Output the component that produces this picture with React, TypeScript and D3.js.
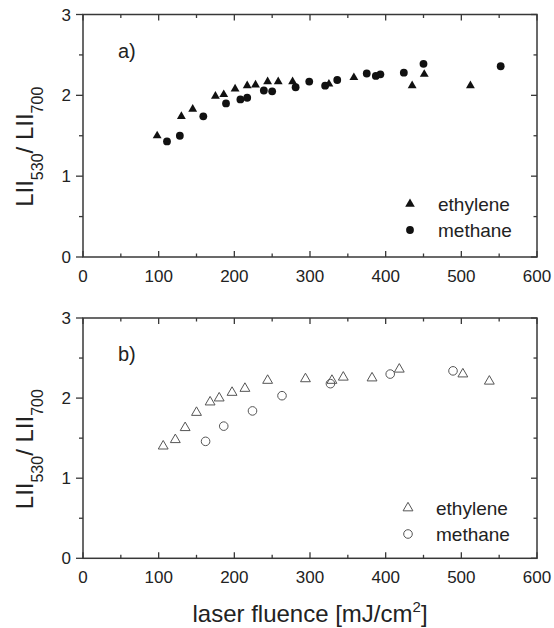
import React from "react";
import * as d3 from "d3";

// ---- data ----
const xTicks = [0, 100, 200, 300, 400, 500, 600];
const yTicks = [0, 1, 2, 3];

const topEthyleneX = [98, 130, 145, 175, 186, 201, 217, 228, 244, 258, 277, 325, 358, 435, 451, 512];
const topEthyleneY = [1.5, 1.74, 1.83, 1.99, 2.01, 2.08, 2.12, 2.13, 2.17, 2.17, 2.17, 2.14, 2.22, 2.12, 2.26, 2.12];

const topMethaneX = [111, 128, 159, 189, 208, 217, 239, 250, 281, 299, 320, 336, 375, 387, 393, 424, 450, 552];
const topMethaneY = [1.43, 1.5, 1.74, 1.9, 1.95, 1.97, 2.06, 2.05, 2.1, 2.17, 2.12, 2.19, 2.27, 2.24, 2.26, 2.28, 2.39, 2.36];

const botEthyleneX = [106, 122, 135, 150, 168, 180, 197, 214, 244, 294, 329, 344, 382, 418, 502, 537];
const botEthyleneY = [1.4, 1.48, 1.63, 1.82, 1.95, 2.0, 2.07, 2.12, 2.22, 2.24, 2.22, 2.26, 2.25, 2.36, 2.3, 2.21];

const botMethaneX = [162, 186, 224, 263, 327, 406, 489];
const botMethaneY = [1.46, 1.65, 1.84, 2.03, 2.18, 2.3, 2.34];

const FONT = "'Liberation Sans', Arial, Helvetica, sans-serif";
const AXIS = "#383838";

type PanelProps = {
  top: number;
  bottom: number;
  label: string;
  triX: number[];
  triY: number[];
  cirX: number[];
  cirY: number[];
  filled: boolean;
  legendY: number;
  legendX: number;
};

const x = d3.scaleLinear().domain([0, 600]).range([83, 537]);

function Panel(p: PanelProps) {
  const y = d3.scaleLinear().domain([0, 3]).range([p.bottom, p.top]);
  const tri = d3.symbol().type(d3.symbolTriangle).size(p.filled ? 34 : 42)();
  const triLeg = d3.symbol().type(d3.symbolTriangle).size(p.filled ? 40 : 42)();
  const fill = p.filled ? "#111" : "none";
  const stroke = p.filled ? "none" : "#555";
  const r = p.filled ? 3.9 : 4.3;
  const minorX = d3.range(50, 600, 100);
  const minorY = [0.5, 1.5, 2.5];
  const L = x(0), R = x(600);
  const midY = (p.top + p.bottom) / 2 + 11;
  return (
    <g>
      {/* frame */}
      <rect x={L} y={p.top} width={R - L} height={p.bottom - p.top} fill="none" stroke={AXIS} strokeWidth={1.5} />
      {/* x ticks bottom & top, inward */}
      {xTicks.map((t) => (
        <g key={"xt" + t}>
          <line x1={x(t)} x2={x(t)} y1={p.bottom} y2={p.bottom - 6} stroke={AXIS} strokeWidth={1.3} />
          <line x1={x(t)} x2={x(t)} y1={p.top} y2={p.top + 6} stroke={AXIS} strokeWidth={1.3} />
          <text x={x(t)} y={p.bottom + 25} textAnchor="middle" fontSize={17} fontFamily={FONT} fill="#222">
            {t}
          </text>
        </g>
      ))}
      {minorX.map((t) => (
        <g key={"xm" + t}>
          <line x1={x(t)} x2={x(t)} y1={p.bottom} y2={p.bottom - 3.5} stroke={AXIS} strokeWidth={1.3} />
          <line x1={x(t)} x2={x(t)} y1={p.top} y2={p.top + 3.5} stroke={AXIS} strokeWidth={1.3} />
        </g>
      ))}
      {/* y ticks: left outward, right inward */}
      {yTicks.map((t) => (
        <g key={"yt" + t}>
          <line x1={L} x2={L - 7} y1={y(t)} y2={y(t)} stroke={AXIS} strokeWidth={1.3} />
          <line x1={R} x2={R - 6} y1={y(t)} y2={y(t)} stroke={AXIS} strokeWidth={1.3} />
          <text x={71} y={y(t)} dy="0.36em" textAnchor="end" fontSize={17} fontFamily={FONT} fill="#222">
            {t}
          </text>
        </g>
      ))}
      {minorY.map((t) => (
        <g key={"ym" + t}>
          <line x1={L} x2={L - 4} y1={y(t)} y2={y(t)} stroke={AXIS} strokeWidth={1.3} />
          <line x1={R} x2={R - 3.5} y1={y(t)} y2={y(t)} stroke={AXIS} strokeWidth={1.3} />
        </g>
      ))}
      {/* y axis title */}
      <text
        transform={`translate(33,${midY}) rotate(-90)`}
        textAnchor="middle"
        fontSize={24}
        fontFamily={FONT}
        fill="#222"
      >
        LII
        <tspan fontSize={16} dy={10}>530</tspan>
        <tspan dy={-10}>/ LII</tspan>
        <tspan fontSize={16} dy={10}>700</tspan>
      </text>
      {/* panel label */}
      <text x={118} y={p.top + 43} fontSize={20} fontFamily={FONT} fill="#222">
        {p.label}
      </text>
      {/* data */}
      {p.cirX.map((v, i) => (
        <circle key={"c" + i} cx={x(v)} cy={y(p.cirY[i])} r={r} fill={fill} stroke={stroke} strokeWidth={1} />
      ))}
      {p.triX.map((v, i) => (
        <path
          key={"t" + i}
          d={tri as string}
          transform={`translate(${x(v)},${y(p.triY[i])})`}
          fill={fill}
          stroke={stroke}
          strokeWidth={1}
        />
      ))}
      {/* legend */}
      <path d={triLeg as string} transform={`translate(${p.legendX},${p.legendY})`} fill={fill} stroke={stroke} strokeWidth={1} />
      <text x={p.legendX + 28} y={p.legendY} dy="0.36em" fontSize={19} fontFamily={FONT} fill="#222">
        ethylene
      </text>
      <circle cx={p.legendX} cy={p.legendY + 26} r={r} fill={fill} stroke={stroke} strokeWidth={1} />
      <text x={p.legendX + 28} y={p.legendY + 26} dy="0.36em" fontSize={19} fontFamily={FONT} fill="#222">
        methane
      </text>
    </g>
  );
}

export default function App() {
  return (
    <svg
      width={554}
      height={628}
      style={{ position: "absolute", left: 0, top: 0, background: "#fff" }}
    >
      <rect width={554} height={628} fill="#fff" />
      <Panel
        top={14.5}
        bottom={257}
        label="a)"
        triX={topEthyleneX}
        triY={topEthyleneY}
        cirX={topMethaneX}
        cirY={topMethaneY}
        filled={true}
        legendX={410}
        legendY={204}
      />
      <Panel
        top={318}
        bottom={558.3}
        label="b)"
        triX={botEthyleneX}
        triY={botEthyleneY}
        cirX={botMethaneX}
        cirY={botMethaneY}
        filled={false}
        legendX={408}
        legendY={508}
      />
      <text x={310} y={622} textAnchor="middle" fontSize={24} fontFamily={FONT} fill="#222">
        laser fluence [mJ/cm
        <tspan fontSize={15} dy={-10}>2</tspan>
        <tspan dy={10}>]</tspan>
      </text>
    </svg>
  );
}
